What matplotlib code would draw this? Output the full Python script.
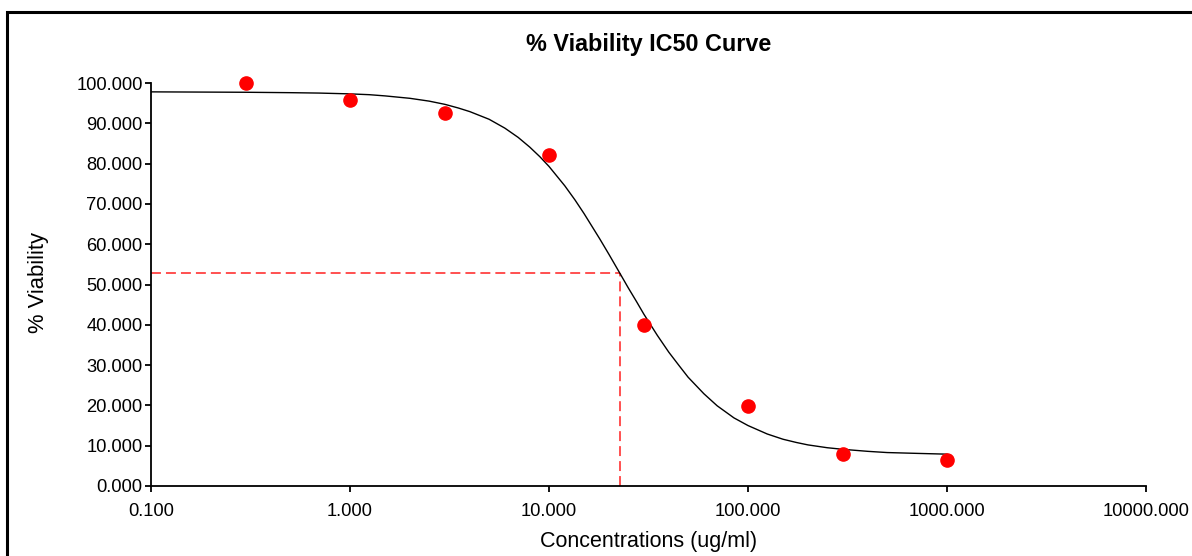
import matplotlib
matplotlib.use("Agg")
import matplotlib.pyplot as plt
from matplotlib.patches import Rectangle
from matplotlib.ticker import FixedLocator, NullLocator, FuncFormatter

plt.rcParams['font.family'] = ['Liberation Sans', 'DejaVu Sans']

# measured points
conc = [0.3, 1, 3, 10, 30, 100, 300, 1000]
viability = [100.0, 95.9, 92.6, 82.2, 40.0, 19.8, 8.0, 6.5]

# fitted curve
curve_x = [0.1, 0.3, 0.5, 0.7, 1, 1.25, 1.5, 2, 2.5, 3, 3.5, 4, 5, 6, 7, 8, 9,
           10, 12, 13.5, 15, 18, 20, 22.7, 25, 27.5, 30, 35, 40, 45, 50, 60,
           70, 85, 100, 125, 150, 175, 200, 250, 300, 400, 500, 700, 1000]
curve_y = [97.8, 97.7, 97.6, 97.5, 97.3, 97.1, 96.8, 96.2, 95.5, 94.7, 93.8,
           92.9, 91.0, 88.8, 86.5, 84.1, 81.7, 79.3, 74.5, 71.0, 67.6, 61.3,
           57.5, 52.8, 49.2, 45.8, 42.6, 37.4, 33.2, 29.9, 27.0, 22.9, 19.9,
           16.9, 15.0, 12.9, 11.6, 10.8, 10.2, 9.5, 9.1, 8.6, 8.3, 8.1, 7.9]

ic50_x = 22.7
ic50_y = 52.8

x_ticks = [0.1, 1, 10, 100, 1000, 10000]
y_ticks = [0, 10, 20, 30, 40, 50, 60, 70, 80, 90, 100]

fig = plt.figure(figsize=(11.92, 5.56), dpi=100)
ax = fig.add_axes([151 / 1192, 1 - 486 / 556, (1146 - 151) / 1192, (486 - 83) / 556])

ax.plot(curve_x, curve_y, color='black', lw=1.0, zorder=3)
ax.plot(conc, viability, 'o', color='#ff0000', ms=9.5, mec='#ff0000', zorder=4, clip_on=False)

ax.plot([x_ticks[0], ic50_x], [ic50_y, ic50_y], color='#ff2020', lw=1.1,
        dashes=(6.5, 3.3), zorder=2)
ax.plot([ic50_x, ic50_x], [0, ic50_y], color='#ff2020', lw=1.1,
        dashes=(6.5, 3.3), zorder=2)

ax.set_xscale('log')
ax.set_xlim(x_ticks[0], x_ticks[-1])
ax.set_ylim(y_ticks[0], y_ticks[-1])
ax.xaxis.set_major_locator(FixedLocator(x_ticks))
ax.xaxis.set_minor_locator(NullLocator())
ax.yaxis.set_major_locator(FixedLocator(y_ticks))
fmt = FuncFormatter(lambda v, p: '%.3f' % v)
ax.xaxis.set_major_formatter(fmt)
ax.yaxis.set_major_formatter(fmt)

for side in ['top', 'right']:
    ax.spines[side].set_visible(False)
for side in ['left', 'bottom']:
    ax.spines[side].set_linewidth(1.3)

ax.tick_params(axis='both', direction='out', length=4, width=1.3,
               labelsize=13.2, colors='black')
ax.tick_params(axis='x', pad=8)
ax.tick_params(axis='y', pad=2)

ax.set_xlabel('Concentrations (ug/ml)', fontsize=15.5, labelpad=8)
ax.set_ylabel('% Viability', fontsize=15.8)
ax.yaxis.set_label_coords(-0.103, 0.505)
ax.set_title('% Viability IC50 Curve', fontsize=16.8, fontweight='bold', pad=23)

fig.add_artist(Rectangle((7 / 1192, -0.1), 2.0, 1 - 12 / 556 + 0.1,
                         transform=fig.transFigure, fill=False, lw=2.2,
                         ec='black'))

fig.savefig('out.png', dpi=100)
